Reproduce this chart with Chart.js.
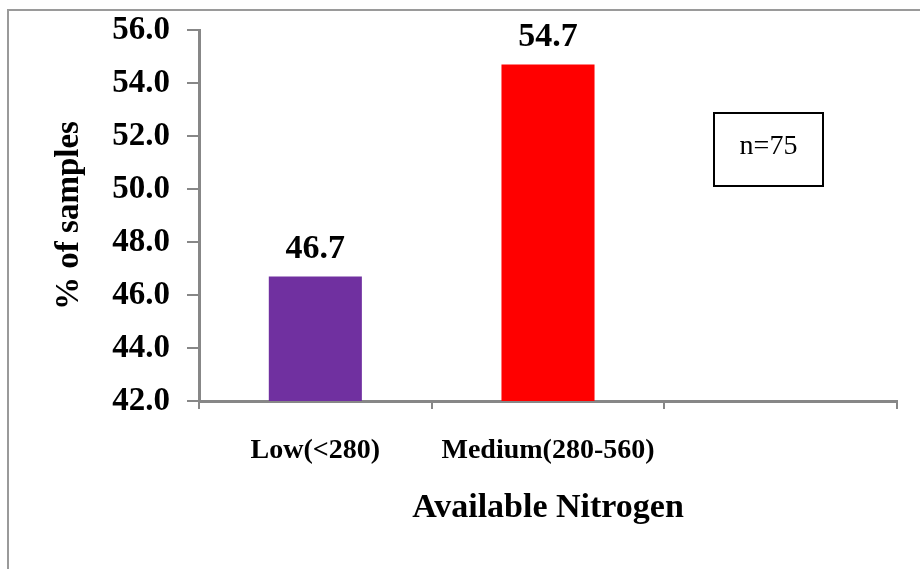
<!DOCTYPE html>
<html>
<head>
<meta charset="utf-8">
<script src="https://cdn.jsdelivr.net/npm/chart.js@4.4.1/dist/chart.umd.min.js"></script>
<style>
  html, body { margin: 0; padding: 0; background: #fff; }
  #wrap { width: 920px; height: 569px; position: relative; }
</style>
</head>
<body>
<div id="wrap"><canvas id="c" width="920" height="569"></canvas></div>
<script>
// Nitrogen availability classes and share of samples in each
const categories = ['Low(<280)', 'Medium(280-560)', ''];
const percentSamples = [46.7, 54.7, null];
const barColors = ['#7030A0', '#FF0000', '#FFFFFF'];
const yMin = 42, yMax = 56, yStep = 2;
const sampleNote = 'n=75';

const SERIF = '"Liberation Serif", "Times New Roman", Times, serif';
const AXIS_GREY = '#878787';

// Outer frame, value labels above bars and the sample-size box
const decorations = {
  id: 'decorations',
  afterDraw(chart) {
    const ctx = chart.ctx;
    ctx.save();
    // frame
    ctx.strokeStyle = '#9a9a9a';
    ctx.lineWidth = 2;
    ctx.beginPath();
    ctx.moveTo(8, 569);
    ctx.lineTo(8, 10);
    ctx.lineTo(920, 10);
    ctx.stroke();

    // value labels
    const meta = chart.getDatasetMeta(0);
    ctx.fillStyle = '#000';
    ctx.font = 'bold 34px ' + SERIF;
    ctx.textAlign = 'center';
    ctx.textBaseline = 'alphabetic';
    meta.data.forEach((bar, i) => {
      const v = percentSamples[i];
      if (v === null || v === undefined) return;
      ctx.fillText(v.toFixed(1), bar.x, bar.y - 18);
    });

    // n box
    const bx = 714, by = 113, bw = 109, bh = 73;
    ctx.strokeStyle = '#000';
    ctx.lineWidth = 2;
    ctx.strokeRect(bx, by, bw, bh);
    ctx.font = '28px ' + SERIF;
    ctx.textBaseline = 'middle';
    ctx.fillText(sampleNote, bx + bw / 2, by + bh / 2 - 3);
    ctx.restore();
  }
};

new Chart(document.getElementById('c'), {
  type: 'bar',
  data: {
    labels: categories,
    datasets: [{
      data: percentSamples,
      backgroundColor: barColors,
      borderWidth: 0,
      barPercentage: 0.8,
      categoryPercentage: 0.5
    }]
  },
  options: {
    responsive: false,
    animation: false,
    layout: { padding: { top: 30, right: 23, bottom: 0, left: 0 } },
    plugins: {
      legend: { display: false },
      tooltip: { enabled: false }
    },
    scales: {
      x: {
        grid: {
          display: true,
          offset: true,
          drawOnChartArea: false,
          drawTicks: true,
          tickLength: 8,
          color: AXIS_GREY,
          lineWidth: 2
        },
        border: { display: true, color: AXIS_GREY, width: 3 },
        ticks: {
          color: '#000',
          font: { family: SERIF, size: 28, weight: 'bold' },
          padding: 25,
          maxRotation: 0,
          autoSkip: false
        },
        title: {
          display: true,
          text: 'Available Nitrogen',
          color: '#000',
          font: { family: SERIF, size: 34, weight: 'bold' },
          padding: { top: 0, bottom: 40 }
        },
        afterFit(scale) {
          scale.height = 168;
          scale.paddingLeft = 0;
          scale.paddingRight = 0;
        }
      },
      y: {
        min: yMin,
        max: yMax,
        grid: {
          display: true,
          drawOnChartArea: false,
          drawTicks: true,
          tickLength: 12,
          color: AXIS_GREY,
          lineWidth: 2
        },
        border: { display: true, color: AXIS_GREY, width: 3 },
        ticks: {
          stepSize: yStep,
          color: '#000',
          font: { family: SERIF, size: 33, weight: 'bold' },
          padding: 17,
          callback: v => Number(v).toFixed(1)
        },
        title: {
          display: true,
          text: '% of samples',
          color: '#000',
          font: { family: SERIF, size: 33, weight: 'bold' },
          padding: { top: 50, bottom: 0 }
        },
        afterFit(scale) {
          scale.width = 199;
          scale.paddingTop = 0;
          scale.paddingBottom = 0;
        }
      }
    }
  },
  plugins: [decorations]
});
</script>
</body>
</html>
